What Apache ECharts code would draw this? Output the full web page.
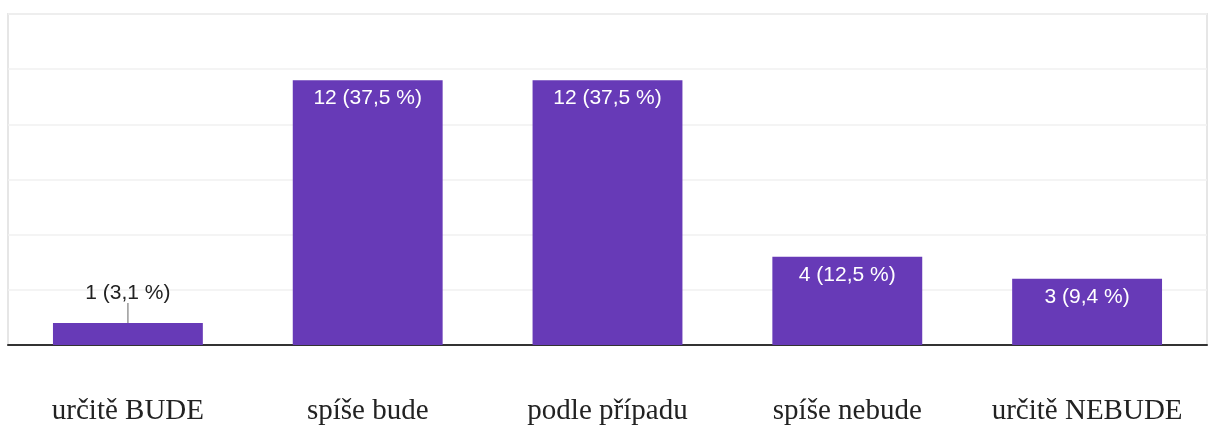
<!DOCTYPE html>
<html><head><meta charset="utf-8">
<script src="https://cdn.jsdelivr.net/npm/echarts@6/dist/echarts.min.js"></script>
<style>html,body{margin:0;padding:0;background:#fff}#c{width:1214px;height:426px}</style>
</head><body><div id="c"></div>
<script>
const categories = ['určitě BUDE', 'spíše bude', 'podle případu', 'spíše nebude', 'určitě NEBUDE'];
const counts = [1, 12, 12, 4, 3];
const labels = ['1 (3,1 %)', '12 (37,5 %)', '12 (37,5 %)', '4 (12,5 %)', '3 (9,4 %)'];
const outsideIdx = 0;

const chart = echarts.init(document.getElementById('c'));
chart.setOption({
  animation: false,
  grid: {left: 8, right: 7, top: 14, bottom: 81, show: true, borderColor: '#e6e6e6', borderWidth: 2},
  xAxis: {
    type: 'category', data: categories,
    axisLine: {lineStyle: {color: '#333', width: 2}},
    axisTick: {show: false},
    axisLabel: {interval: 0, margin: 52, fontFamily: 'Liberation Serif', fontSize: 29, color: '#222'}
  },
  yAxis: {
    type: 'value', min: 0, max: 15, interval: 2.5,
    axisLabel: {show: false},
    splitLine: {lineStyle: {color: '#f0f0f0', width: 1.5}}
  },
  series: [{
    type: 'bar', barWidth: '62.5%',
    itemStyle: {color: '#673ab7'},
    data: counts.map((v, i) => i === outsideIdx ? {
      value: v,
      label: {position: 'top', distance: 19, color: '#222'}
    } : v),
    label: {
      show: true, position: 'insideTop', distance: 8,
      fontFamily: 'Liberation Sans', fontSize: 21, color: '#fff',
      formatter: p => labels[p.dataIndex]
    },
    z: 2
  }, {
    type: 'custom',
    data: [[outsideIdx, counts[outsideIdx]]],
    renderItem: (params, api) => {
      const p = api.coord([api.value(0), api.value(1)]);
      return {type: 'line', shape: {x1: p[0], y1: p[1], x2: p[0], y2: p[1] - 20},
        style: {stroke: '#999', lineWidth: 1.5}};
    },
    z: 3
  }]
});
</script></body></html>
